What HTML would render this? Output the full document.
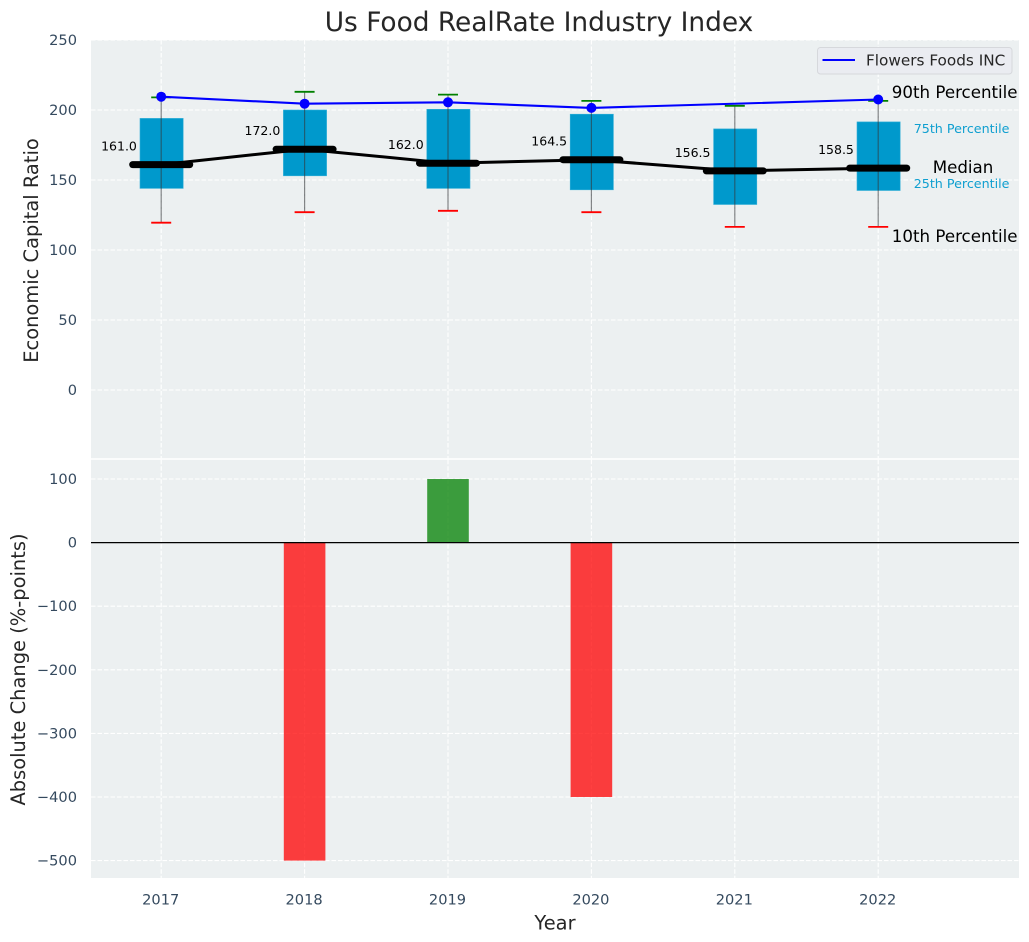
<!DOCTYPE html>
<html lang="en">
<head>
<meta charset="utf-8">
<title>Us Food RealRate Industry Index</title>
<style>
html,body{margin:0;padding:0;background:#fff;}
svg{display:block;font-family:"DejaVu Sans","Liberation Sans",sans-serif;}
</style>
</head>
<body>
<svg id="chart" xmlns="http://www.w3.org/2000/svg" width="1029" height="942" viewBox="0 0 1029 942"></svg>
<script>
const years = [2017, 2018, 2019, 2020, 2021, 2022];
const p10 = [119.5, 127, 128, 127, 116.5, 116.5];
const p25 = [144, 153, 144, 143, 132.5, 142.5];
const medians = [161.0, 172.0, 162.0, 164.5, 156.5, 158.5];
const p75 = [194, 200, 200.5, 197, 186.5, 191.5];
const p90 = [209, 213, 211, 206.5, 203, 206.5];
const company = [209.5, 204.5, 205.5, 201.5, null, 207.5];
const changes = [0, -500, 100, -400, 0, 0];
const topTicks = [0, 50, 100, 150, 200, 250];
const bottomTicks = [100, 0, -100, -200, -300, -400, -500];

const svg = document.getElementById('chart');
const NS = 'http://www.w3.org/2000/svg';
const plotLeft = 91, plotRight = 1019;
const topPlotTop = 40, topPlotBottom = 458.2;
const botPlotTop = 459.8, botPlotBottom = 878;

function xScale(year) { return 161.2 + (year - 2017) * 143.4; }
function yTop(v) { return 390 - v * 1.4; }
function yBot(v) { return 542.6 - v * 0.636; }

function add(tag, attrs, text) {
  const el = document.createElementNS(NS, tag);
  for (const k in attrs) el.setAttribute(k, attrs[k]);
  if (text !== undefined) el.textContent = text;
  svg.appendChild(el);
  return el;
}
function label(name, x, y, text, size, fill, anchor, extra) {
  const el = add('text', Object.assign({x: x, y: y, 'font-size': size, fill: fill, 'text-anchor': anchor}, extra || {}), text);
  
  
  return el;
}
function mark(el, name) {
  
  
  return el;
}
const tickColor = '#34495e';
const gridStyle = {stroke: '#ffffff', 'stroke-width': 1.1, 'stroke-dasharray': '4.5 2'};

mark(add('rect', {x: plotLeft, y: topPlotTop, width: plotRight - plotLeft, height: topPlotBottom - topPlotTop, fill: '#ecf0f1'}), 'top-plot-background');
mark(add('rect', {x: plotLeft, y: botPlotTop, width: plotRight - plotLeft, height: botPlotBottom - botPlotTop, fill: '#ecf0f1'}), 'bottom-plot-background');

/* grid */
years.forEach(function (yr) {
  mark(add('line', Object.assign({x1: xScale(yr), x2: xScale(yr), y1: topPlotTop, y2: topPlotBottom}, gridStyle)), 'top-gridline-x-' + yr);
  mark(add('line', Object.assign({x1: xScale(yr), x2: xScale(yr), y1: botPlotTop, y2: botPlotBottom}, gridStyle)), 'bottom-gridline-x-' + yr);
});
topTicks.forEach(function (t) {
  mark(add('line', Object.assign({x1: plotLeft, x2: plotRight, y1: yTop(t), y2: yTop(t)}, gridStyle)), 'top-gridline-y-' + t);
  label('top-y-tick-' + t, 77, yTop(t) + 5, String(t), 14.6, tickColor, 'end');
});
bottomTicks.forEach(function (t) {
  mark(add('line', Object.assign({x1: plotLeft, x2: plotRight, y1: yBot(t), y2: yBot(t)}, gridStyle)), 'bottom-gridline-y-' + t);
  label('bottom-y-tick-' + t, 77, yBot(t) + 5, String(t).replace('-', '\u2212'), 14.6, tickColor, 'end');
});

/* boxes */
const boxHalf = 21.6;
years.forEach(function (yr, i) {
  const x = xScale(yr);
  const box = add('rect', {x: x - boxHalf + 0.4, y: yTop(p75[i]), width: boxHalf * 2, height: yTop(p25[i]) - yTop(p75[i]), fill: '#0099cc', stroke: '#33b0d8', 'stroke-width': 0.6});
  mark(box, 'box-' + yr);
});

/* median connecting line */
const medianPath = add('polyline', {points: years.map(function (yr, i) { return xScale(yr) + ',' + yTop(medians[i]); }).join(' '), fill: 'none', stroke: '#000', 'stroke-width': 3});
mark(medianPath, 'median-line');

/* whiskers and caps */
years.forEach(function (yr, i) {
  const x = xScale(yr);
  mark(add('line', {x1: x, x2: x, y1: yTop(p90[i]), y2: yTop(p10[i]), stroke: '#33373a', 'stroke-width': 1.2, opacity: 0.6}), 'whisker-' + yr);
  mark(add('line', {x1: x - 10, x2: x + 10, y1: yTop(p90[i]), y2: yTop(p90[i]), stroke: '#008000', 'stroke-width': 1.8}), 'p90-cap-' + yr);
  mark(add('line', {x1: x - 10, x2: x + 10, y1: yTop(p10[i]), y2: yTop(p10[i]), stroke: '#ff0000', 'stroke-width': 1.8}), 'p10-cap-' + yr);
  mark(add('line', {x1: x - 28.5, x2: x + 28.5, y1: yTop(medians[i]), y2: yTop(medians[i]), stroke: '#000', 'stroke-width': 7, 'stroke-linecap': 'round'}), 'median-bar-' + yr);
  label('median-value-' + yr, x - 24.3, yTop(medians[i]) - 14, medians[i].toFixed(1), 12.5, '#000', 'end');
});

/* company line */
const companyPts = years.map(function (yr, i) { return company[i] === null ? null : xScale(yr) + ',' + yTop(company[i]); }).filter(Boolean);
mark(add('polyline', {points: companyPts.join(' '), fill: 'none', stroke: '#0000ff', 'stroke-width': 2.1}), 'company-line');
years.forEach(function (yr, i) {
  if (company[i] !== null) {
    mark(add('circle', {cx: xScale(yr), cy: yTop(company[i]), r: 5, fill: '#0000ff'}), 'company-point-' + yr);
  }
});

/* percentile annotations tied to the last year */
const last = years.length - 1;
const lastX = xScale(years[last]);
label('p90-annotation', lastX + 13.6, yTop(p90[last]) - 3, '90th Percentile', 16.67, '#000', 'start');
label('p75-annotation', lastX + 35.5, yTop(p75[last]) + 11, '75th Percentile', 12.7, '#0f9fd0', 'start');
label('median-annotation', lastX + 84.8, yTop(medians[last]) + 5, 'Median', 16.67, '#000', 'middle');
label('p25-annotation', lastX + 35.5, yTop(p25[last]) - 2.5, '25th Percentile', 12.7, '#0f9fd0', 'start');
label('p10-annotation', lastX + 13.6, yTop(p10[last]) + 15, '10th Percentile', 16.67, '#000', 'start');

/* legend */
mark(add('rect', {x: 817.5, y: 47.5, width: 194.5, height: 26.5, rx: 3, fill: '#eaecf1', stroke: '#d6d8dc', 'stroke-width': 1}), 'legend-box');
mark(add('line', {x1: 822.5, x2: 855, y1: 60, y2: 60, stroke: '#0000ff', 'stroke-width': 2}), 'legend-line');
label('legend-label', 866, 65.5, 'Flowers Foods INC', 15.28, '#262626', 'start');

/* change bars */
const barHalf = 20.8;
years.forEach(function (yr, i) {
  if (changes[i] !== 0) {
    const v = changes[i];
    const top = Math.min(yBot(v), yBot(0));
    const bar = add('rect', {x: xScale(yr) - barHalf, y: top, width: barHalf * 2, height: Math.abs(yBot(v) - yBot(0)), fill: v < 0 ? '#ff0000' : '#008000', opacity: 0.75});
    mark(bar, 'change-bar-' + yr);
  }
});
mark(add('line', {x1: plotLeft, x2: plotRight, y1: yBot(0), y2: yBot(0), stroke: '#000', 'stroke-width': 1.2}), 'zero-line');

/* x ticks */
years.forEach(function (yr) {
  label('x-tick-' + yr, xScale(yr) - 0.5, 904.5, String(yr), 14.6, tickColor, 'middle');
});

/* titles */
label('chart-title', 539, 31, 'Us Food RealRate Industry Index', 26.4, '#262626', 'middle');
label('x-axis-title', 555, 929.5, 'Year', 19.44, '#262626', 'middle');
label('top-y-axis-title', 38, 250.5, 'Economic Capital Ratio', 19.44, '#262626', 'middle', {transform: 'rotate(-90 38 250.5)'});
label('bottom-y-axis-title', 25, 669.5, 'Absolute Change (%-points)', 19.44, '#262626', 'middle', {transform: 'rotate(-90 25 669.5)'});
</script>
</body>
</html>
